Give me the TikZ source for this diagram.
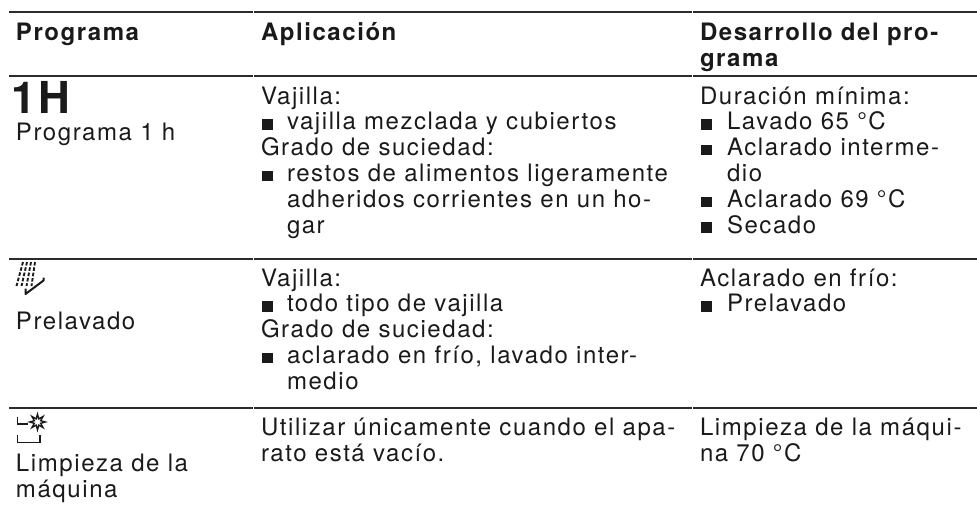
\documentclass[tikz,border=0pt]{standalone}
\usepackage{fontspec}
\setmainfont{TeX Gyre Heros}[LetterSpace=6.5]
\newfontfamily\bigfont{TeX Gyre Heros}[LetterSpace=4]
\definecolor{ink}{HTML}{1A1A1A}
\definecolor{rule}{HTML}{2B2B2B}
\tikzset{
  txt/.style={anchor=base west, inner sep=0pt, outer sep=0pt, text=ink, font=\fontsize{24}{25.8}\selectfont},
  hdr/.style={txt, font=\fontsize{24}{25.8}\selectfont\bfseries},
  bigtxt/.style={txt, font=\fontsize{44}{45}\selectfont\bigfont\bfseries},
  sq/.style={anchor=south west, fill=ink, inner sep=0pt, minimum width=10.5pt, minimum height=10.5pt},
  tabrule/.style={draw=rule, line width=2pt},
  icon/.style={draw=ink, line width=1.5pt}
}
\begin{document}
\begin{tikzpicture}[x=1pt, y=-1pt]
\useasboundingbox (0,0) rectangle (977,512);
% rules
\foreach \yy in {12,76,259,408}{
  \draw[tabrule] (9,\yy) -- (252.5,\yy);
  \draw[tabrule] (253.7,\yy) -- (691.5,\yy);
  \draw[tabrule] (692.7,\yy) -- (977,\yy);
}
% header
\node[hdr] (h1) at (16,40) {Programa};
\node[hdr] (h2) at (261,40) {Aplicación};
\node[hdr] (h3a) at (700,40) {Desarrollo del pro-};
\node[hdr] (h3b) at (700,66) {grama};
% row 1
\node[bigtxt] (r1p) at (12,113) {1H};
\node[txt] (r1n) at (16,140) {Programa 1 h};
\node[txt] (r1a1) at (261,104) {Vajilla:};
\node[sq] (r1b1) at (262,129.8) {};
\node[txt] (r1a2) at (287,129.8) {vajilla mezclada y cubiertos};
\node[txt] (r1a3) at (261,155.6) {Grado de suciedad:};
\node[sq] (r1b2) at (262,181.4) {};
\node[txt] (r1a4) at (287,181.4) {restos de alimentos ligeramente};
\node[txt] (r1a5) at (287,207.2) {adheridos corrientes en un ho-};
\node[txt] (r1a6) at (287,233) {gar};
\node[txt] (r1d1) at (700,104) {Duración mínima:};
\node[sq] (r1c1) at (701,129.8) {};
\node[txt] (r1d2) at (727,129.8) {Lavado 65 °C};
\node[sq] (r1c2) at (701,155.6) {};
\node[txt] (r1d3) at (727,155.6) {Aclarado interme-};
\node[txt] (r1d4) at (727,181.4) {dio};
\node[sq] (r1c3) at (701,207.2) {};
\node[txt] (r1d5) at (727,207.2) {Aclarado 69 °C};
\node[sq] (r1c4) at (701,233) {};
\node[txt] (r1d6) at (727,233) {Secado};
% row 2 icon (hand shower)
\foreach \xa/\xb in {23/16.5, 27/21.5, 31/26.5, 35/31.5}{
  \draw[icon, line width=1.9pt, dash pattern=on 3.6pt off 1.8pt] (\xa,262) -- (\xb,286);
}
\draw[icon, line width=2pt, line join=round] (25.5,288.5) -- (25.5,294) -- (43.5,280.5) -- (43.5,277.5);
\node[txt] (r2n) at (16,329) {Prelavado};
\node[txt] (r2a1) at (261,286) {Vajilla:};
\node[sq] (r2b1) at (262,311.8) {};
\node[txt] (r2a2) at (287,311.8) {todo tipo de vajilla};
\node[txt] (r2a3) at (261,337.6) {Grado de suciedad:};
\node[sq] (r2b2) at (262,363.4) {};
\node[txt] (r2a4) at (287,363.4) {aclarado en frío, lavado inter-};
\node[txt] (r2a5) at (287,389.2) {medio};
\node[txt] (r2d1) at (700,286) {Aclarado en frío:};
\node[sq] (r2c1) at (701,311.8) {};
\node[txt] (r2d2) at (727,311.8) {Prelavado};
% row 3 icon (machine care)
\draw[icon, line width=1.6pt] (17.5,417) -- (17.5,424) -- (28,424);
\draw[icon, line width=1.6pt] (17.5,435) -- (17.5,442.5) -- (40,442.5) -- (40,435);
\draw[icon, line width=1.4pt, line join=miter, shift={(37.5,422)}] plot[samples at={0,...,15}, variable=\k] ({\k*22.5+90}:{mod(\k,2)==0 ? 7.8 : 3.4}) -- cycle;
\node[txt] (r3n1) at (16,471) {Limpieza de la};
\node[txt] (r3n2) at (16,497) {máquina};
\node[txt] (r3a1) at (261,435) {Utilizar únicamente cuando el apa-};
\node[txt] (r3a2) at (261,461) {rato está vacío.};
\node[txt] (r3d1) at (700,435) {Limpieza de la máqui-};
\node[txt] (r3d2) at (700,461) {na 70 °C};
\end{tikzpicture}
\end{document}
